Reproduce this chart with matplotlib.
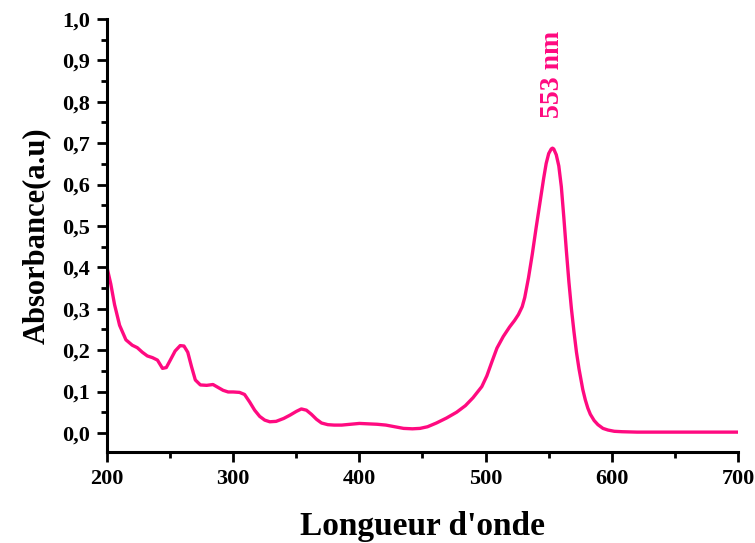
import matplotlib
matplotlib.use("Agg")
import matplotlib.pyplot as plt
from matplotlib.ticker import MultipleLocator, FuncFormatter

# wavelength (nm) and absorbance
wavelength = [200, 203, 206, 210, 215, 220, 224, 228, 232, 236, 240, 244, 247,
              250, 254, 258, 261, 264, 267, 270, 274, 279, 284, 288, 292, 296,
              300, 305, 309, 313, 317, 321, 325, 329, 334, 340, 345, 350, 354,
              358, 362, 366, 370, 375, 380, 386, 393, 400, 407, 414, 421, 428,
              435, 442, 448, 454, 461, 469, 477, 484, 490, 497, 501, 505, 509,
              514, 519, 523, 526, 529, 531, 534, 537, 540, 543, 546, 548, 550,
              552, 553, 554, 556, 558, 560, 562, 564, 566, 568, 570, 572, 574,
              577, 579, 581, 583, 586, 589, 593, 597, 602, 608, 620, 650, 675,
              700]
absorbance = [0.400, 0.360, 0.310, 0.260, 0.225, 0.212, 0.206, 0.195, 0.186,
              0.182, 0.176, 0.156, 0.158, 0.175, 0.198, 0.211, 0.210, 0.195,
              0.160, 0.128, 0.116, 0.115, 0.117, 0.110, 0.103, 0.099, 0.099,
              0.098, 0.093, 0.075, 0.055, 0.040, 0.031, 0.027, 0.028, 0.035,
              0.043, 0.052, 0.058, 0.055, 0.045, 0.033, 0.024, 0.020, 0.019,
              0.019, 0.021, 0.023, 0.022, 0.021, 0.019, 0.015, 0.011, 0.010,
              0.011, 0.015, 0.024, 0.036, 0.050, 0.066, 0.085, 0.112, 0.138,
              0.172, 0.205, 0.233, 0.256, 0.272, 0.286, 0.305, 0.327, 0.375,
              0.432, 0.495, 0.555, 0.615, 0.651, 0.675, 0.686, 0.688, 0.686,
              0.672, 0.645, 0.595, 0.520, 0.440, 0.365, 0.300, 0.245, 0.195,
              0.155, 0.105, 0.080, 0.060, 0.045, 0.030, 0.020, 0.011, 0.007,
              0.004, 0.003, 0.002, 0.002, 0.002, 0.002]

peak_wl = 553
peak_label = "553 nm"
pink = "#ff0a80"

plt.rcParams["font.family"] = ["Liberation Serif", "DejaVu Serif"]
plt.rcParams["font.weight"] = "bold"

fig = plt.figure(figsize=(7.55, 5.43), dpi=100)
ax = fig.add_axes([0.1417, 0.1676, 0.8358, 0.7974])

ax.plot(wavelength, absorbance, color=pink, linewidth=2.4)
ax.text(peak_wl, 0.867, peak_label, rotation=90, ha="center", va="center",
        color=pink, fontsize=20, fontweight="bold")

ax.set_xlim(200, 700)
ax.set_ylim(-0.046, 1.0)
ax.xaxis.set_major_locator(MultipleLocator(100))
ax.xaxis.set_minor_locator(MultipleLocator(50))
ax.yaxis.set_major_locator(MultipleLocator(0.1))
ax.yaxis.set_minor_locator(MultipleLocator(0.05))
ax.yaxis.set_major_formatter(FuncFormatter(lambda v, p: f"{v:.1f}".replace(".", ",")))

for side in ("top", "right"):
    ax.spines[side].set_visible(False)
for side in ("left", "bottom"):
    ax.spines[side].set_linewidth(2.2)

ax.tick_params(which="major", direction="out", length=7, width=2, labelsize=16, pad=5)
ax.tick_params(which="minor", direction="out", length=4, width=2)
for lbl in ax.get_xticklabels() + ax.get_yticklabels():
    lbl.set_fontweight("bold")

ax.set_xlabel("Longueur d'onde", fontsize=24, fontweight="bold", labelpad=16)
ax.set_ylabel("Absorbance(a.u)", fontsize=22, fontweight="bold", labelpad=8)

fig.savefig("out.png", dpi=100)
